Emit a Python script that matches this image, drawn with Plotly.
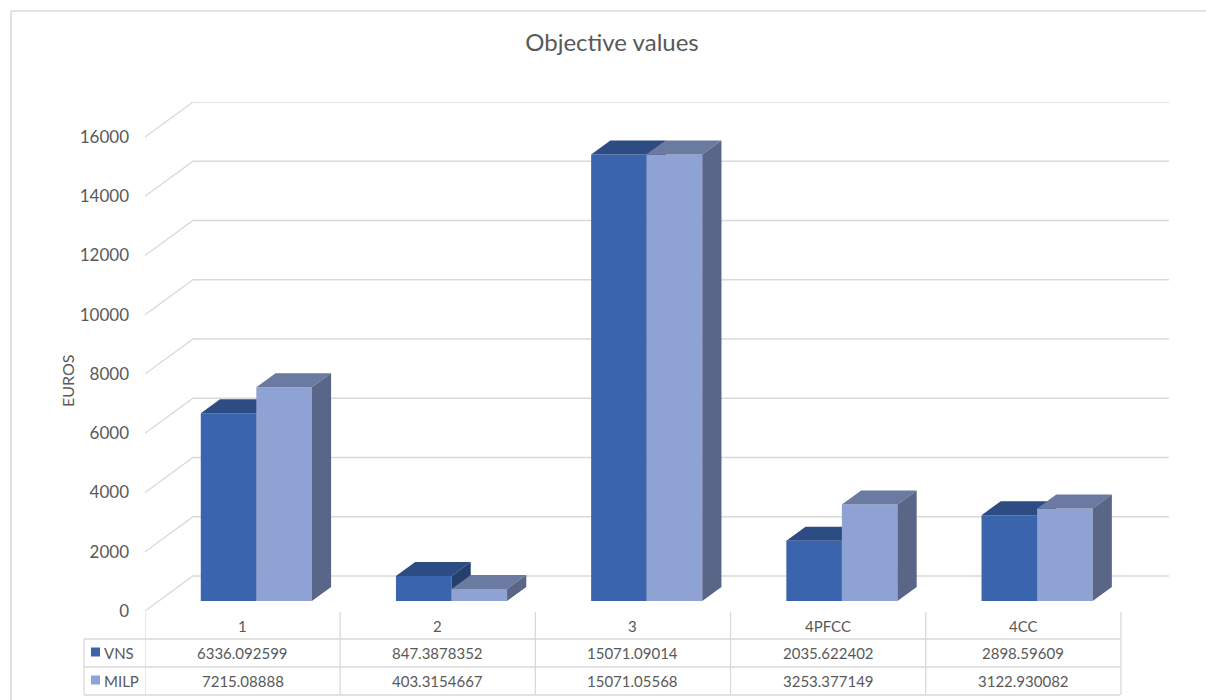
import plotly.graph_objects as go

# ---------------- data ----------------
categories = ["1", "2", "3", "4PFCC", "4CC"]
series_names = ["VNS", "MILP"]
vns_values = [6336.092599, 847.3878352, 15071.09014, 2035.622402, 2898.59609]
milp_values = [7215.08888, 403.3154667, 15071.05568, 3253.377149, 3122.930082]
vns_labels = ["6336.092599", "847.3878352", "15071.09014", "2035.622402", "2898.59609"]
milp_labels = ["7215.08888", "403.3154667", "15071.05568", "3253.377149", "3122.930082"]
y_ticks = [0, 2000, 4000, 6000, 8000, 10000, 12000, 14000, 16000]

# ---------------- geometry / style ----------------
W, H = 1206, 700
PL, PR, PT, PB = 145, 1169, 102, 611          # plot area in pixels
CAT_PX = 195.0                                 # pixels per category (front)
PX_PER_UNIT = (576 - 102) / 16000.0            # vertical scale
DEPTH_PX_X, DEPTH_PX_Y = 48.0, 35.0            # floor depth in pixels
DX = DEPTH_PX_X / CAT_PX                       # depth in x data units
DY = DEPTH_PX_Y / PX_PER_UNIT                  # depth in y data units
Z0 = 10.0 / 35.0                               # bar front plane (fraction of depth)
ZB = 14.0 / 35.0                               # bar depth (fraction)
BAR_W = 55.5 / CAT_PX                          # bar width in category units

FONT = "Lato"
TXT = "#595959"
GRID = "#D9D9D9"
colors = {
    "VNS": {"front": "#3A64AD", "top": "#2D4C84", "side": "#263F6E"},
    "MILP": {"front": "#8FA2D4", "top": "#6B7AA1", "side": "#5A6688"},
}

n = len(categories)
xmax = n + DX
ymax = 16000 + DY


def px2paper_x(px):
    return (px - PL) / (PR - PL)


def px2paper_y(py):
    return (PB - py) / (PB - PT)


fig = go.Figure()

# gridlines (wall + back)
gx, gy = [], []
for v in y_ticks:
    gx += [0, DX, n + DX, None]
    gy += [v, v + DY, v + DY, None]
fig.add_trace(go.Scatter(x=gx, y=gy, mode="lines", line=dict(color=GRID, width=1.3),
                         hoverinfo="skip", showlegend=False))


def box_faces(i, v, left):
    x0 = i + 0.5 - (BAR_W if left else 0) + Z0 * DX
    x1 = x0 + BAR_W
    yb = Z0 * DY
    yt = yb + v
    bdx, bdy = ZB * DX, ZB * DY
    front = ([x0, x1, x1, x0, x0], [yb, yb, yt, yt, yb])
    top = ([x0, x1, x1 + bdx, x0 + bdx, x0], [yt, yt, yt + bdy, yt + bdy, yt])
    side = ([x1, x1 + bdx, x1 + bdx, x1, x1], [yb, yb + bdy, yt + bdy, yt, yb])
    return front, top, side


for s, vals in ((0, vns_values), (1, milp_values)):
    name = series_names[s]
    faces = {"front": ([], []), "top": ([], []), "side": ([], [])}
    for i, v in enumerate(vals):
        f, t, sd = box_faces(i, v, s == 0)
        for key, (xs, ys) in zip(("front", "top", "side"), (f, t, sd)):
            faces[key][0].extend(xs + [None])
            faces[key][1].extend(ys + [None])
    for key in ("front", "top", "side"):
        xs, ys = faces[key]
        fig.add_trace(go.Scatter(x=xs, y=ys, mode="lines", fill="toself",
                                 fillcolor=colors[name][key],
                                 line=dict(width=0, color=colors[name][key]),
                                 name=name, hoverinfo="skip", showlegend=False))

# ---------------- data table ----------------
shapes = []
row_top, row1, row2, row3 = 612, 639, 667, 695
tbl_left = 84
line = dict(color=GRID, width=1.3)
for i in range(n + 1):
    shapes.append(dict(type="line", xref="x", yref="paper", x0=i, x1=i,
                       y0=px2paper_y(row_top), y1=px2paper_y(row3), line=line))
for ry in (row1, row2, row3):
    shapes.append(dict(type="line", xref="paper", yref="paper",
                       x0=px2paper_x(tbl_left), x1=px2paper_x(PL + n * CAT_PX),
                       y0=px2paper_y(ry), y1=px2paper_y(ry), line=line))
shapes.append(dict(type="line", xref="paper", yref="paper",
                   x0=px2paper_x(tbl_left), x1=px2paper_x(tbl_left),
                   y0=px2paper_y(row1), y1=px2paper_y(row3), line=line))
# chart border
shapes.append(dict(type="line", xref="paper", yref="paper",
                   x0=px2paper_x(11), x1=px2paper_x(11),
                   y0=px2paper_y(11), y1=px2paper_y(H + 5), line=dict(color=GRID, width=1.5)))
shapes.append(dict(type="line", xref="paper", yref="paper",
                   x0=px2paper_x(11), x1=px2paper_x(W + 5),
                   y0=px2paper_y(11), y1=px2paper_y(11), line=dict(color=GRID, width=1.5)))
# legend keys
for s, ry in ((0, 652), (1, 680)):
    shapes.append(dict(type="rect", xref="paper", yref="paper",
                       x0=px2paper_x(91), x1=px2paper_x(100),
                       y0=px2paper_y(ry - 4.5), y1=px2paper_y(ry + 4.5),
                       fillcolor=colors[series_names[s]]["front"], line=dict(width=0)))

annotations = []
tfont = dict(family=FONT, size=15, color=TXT)
for i, c in enumerate(categories):
    annotations.append(dict(x=i + 0.5, y=px2paper_y(626), xref="x", yref="paper", text=c,
                            showarrow=False, font=tfont, xanchor="center", yanchor="middle"))
    annotations.append(dict(x=i + 0.5, y=px2paper_y(652.5), xref="x", yref="paper",
                            text=vns_labels[i], showarrow=False, font=tfont,
                            xanchor="center", yanchor="middle"))
    annotations.append(dict(x=i + 0.5, y=px2paper_y(680.5), xref="x", yref="paper",
                            text=milp_labels[i], showarrow=False, font=tfont,
                            xanchor="center", yanchor="middle"))
for s, ry in ((0, 652.5), (1, 680.5)):
    annotations.append(dict(x=px2paper_x(102), y=px2paper_y(ry), xref="paper", yref="paper",
                            text=series_names[s], showarrow=False, font=tfont,
                            xanchor="left", yanchor="middle"))
annotations.append(dict(x=px2paper_x(67), y=px2paper_y(381), xref="paper", yref="paper",
                        text="EUROS", textangle=-90, showarrow=False,
                        font=dict(family=FONT, size=16, color=TXT),
                        xanchor="center", yanchor="middle"))

fig.update_layout(
    width=W, height=H,
    margin=dict(l=PL, r=W - PR, t=PT, b=H - PB, autoexpand=False),
    paper_bgcolor="white", plot_bgcolor="white",
    title=dict(text="Objective values", x=612 / W, xref="container", xanchor="center",
               y=1 - 43 / H, yref="container", yanchor="middle",
               font=dict(family=FONT, size=24, color=TXT)),
    xaxis=dict(range=[0, xmax], visible=False, fixedrange=True),
    yaxis=dict(range=[0, ymax], tickvals=y_ticks, ticktext=[str(t) for t in y_ticks],
               showgrid=False, zeroline=False, showline=False, ticks="",
               ticklabelstandoff=15,
               tickfont=dict(family=FONT, size=17, color=TXT), fixedrange=True),
    shapes=shapes, annotations=annotations, showlegend=False,
)

fig.write_html("out.html")
